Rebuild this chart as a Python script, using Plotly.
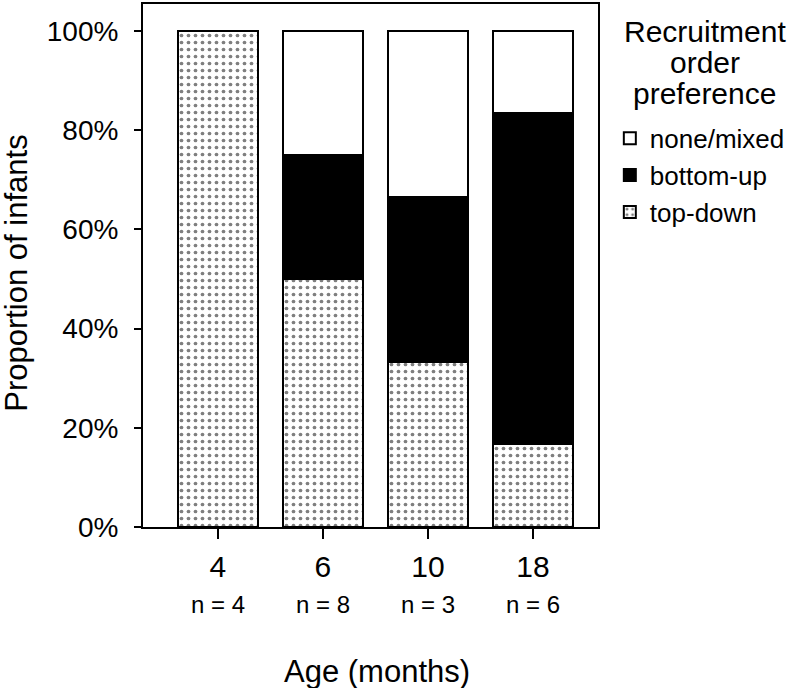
import plotly.graph_objects as go

ages = ["4", "6", "10", "18"]
n_labels = ["n = 4", "n = 8", "n = 3", "n = 6"]
top_down = [100.0, 50.0, 33.3, 16.7]
bottom_up = [0.0, 25.0, 33.3, 66.7]
none_mixed = [0.0, 25.0, 33.4, 16.6]
y_ticks = [0, 20, 40, 60, 80, 100]
y_ticktext = ["0%", "20%", "40%", "60%", "80%", "100%"]
legend_title_lines = ["Recruitment", "order", "preference"]

FONT = "Liberation Sans, Arial, sans-serif"
xpos = list(range(len(ages)))

fig = go.Figure()
line = dict(color="black", width=2)
fig.add_trace(go.Bar(x=xpos, y=top_down, name="top-down", width=0.76,
                     marker=dict(color="white", line=line,
                                 pattern=dict(shape=".", fgcolor="black", bgcolor="white",
                                              size=7, solidity=0.22, fillmode="overlay"))))
fig.add_trace(go.Bar(x=xpos, y=bottom_up, name="bottom-up", width=0.76,
                     marker=dict(color="black", line=line)))
fig.add_trace(go.Bar(x=xpos, y=none_mixed, name="none/mixed", width=0.76,
                     marker=dict(color="white", line=line)))

annotations = []
for xi, lab in zip(xpos, n_labels):
    annotations.append(dict(x=xi, y=-0.149, xref="x", yref="paper", text=lab, showarrow=False,
                            yanchor="middle",
                            font=dict(size=24, color="black", family=FONT)))
annotations.append(dict(x=0.514, y=-0.276, xref="paper", yref="paper", text="Age (months)",
                        showarrow=False, font=dict(size=31, color="black", family=FONT),
                        yanchor="middle"))
annotations.append(dict(x=-0.277, y=0.486, xref="paper", yref="paper", text="Proportion of infants",
                        showarrow=False, textangle=-90, font=dict(size=31, color="black", family=FONT),
                        xanchor="center", yanchor="middle"))
for yy, txt in zip([0.947, 0.888, 0.829], legend_title_lines):
    annotations.append(dict(x=1.235, y=yy, xref="paper", yref="paper", text=txt, showarrow=False,
                            xanchor="center", yanchor="middle",
                            font=dict(size=30, color="black", family=FONT)))

fig.update_layout(
    width=796, height=688,
    margin=dict(l=143, r=198, t=2, b=161),
    paper_bgcolor="white", plot_bgcolor="white",
    barmode="stack",
    font=dict(family=FONT, color="black"),
    showlegend=True,
    legend=dict(traceorder="reversed", x=1.026, y=0.788, xanchor="left", yanchor="top",
                font=dict(size=26, color="black", family=FONT), itemwidth=30,
                bgcolor="rgba(0,0,0,0)"),
    annotations=annotations,
)
fig.update_xaxes(range=[-0.714, 3.62], tickvals=xpos, ticktext=ages, ticks="outside",
                 ticklen=10, tickwidth=2, tickcolor="black", showline=True, linecolor="black",
                 linewidth=2, mirror=True, showgrid=False, zeroline=False, ticklabelstandoff=2,
                 tickfont=dict(size=30, color="black", family=FONT))
fig.update_yaxes(range=[0, 105.4], tickvals=y_ticks, ticktext=y_ticktext, ticks="outside",
                 ticklen=7, tickwidth=2, tickcolor="black", showline=True, linecolor="black",
                 linewidth=2, mirror=True, showgrid=False, zeroline=False, ticklabelstandoff=10,
                 tickfont=dict(size=28, color="black", family=FONT))

fig.write_html("out.html", config={"displayModeBar": False},
               post_script="document.body.style.margin='0px';")
